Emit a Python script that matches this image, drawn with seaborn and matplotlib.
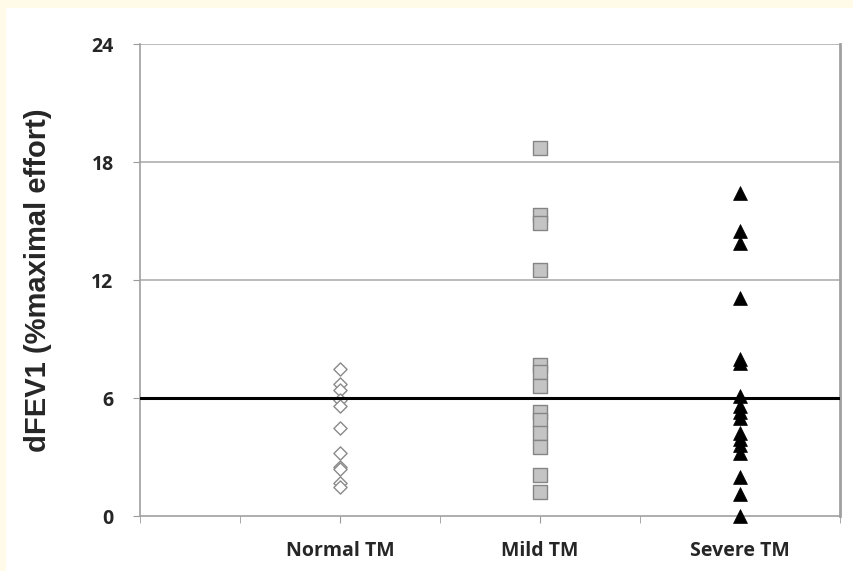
import pandas as pd
import seaborn as sns
import matplotlib.pyplot as plt
from matplotlib.patches import Rectangle

# dFEV1 values
groups = ['Normal TM', 'Mild TM', 'Severe TM']
normal_tm = [7.5, 6.7, 6.4, 5.9, 5.6, 4.5, 3.2, 2.5, 2.4, 1.7, 1.5]
mild_tm = [18.7, 15.3, 14.9, 12.5, 7.7, 7.3, 6.6, 5.3, 4.9, 4.2, 3.5, 2.1, 1.2]
severe_tm = [16.4, 14.5, 13.9, 11.1, 8.0, 7.8, 6.1, 5.6, 5.3, 5.0,
             4.2, 3.9, 3.6, 3.2, 2.0, 1.1, 0.0]
y_ticks = [0, 6, 12, 18, 24]
threshold = 6

rows = []
for i, (g, vals) in enumerate(zip(groups, [normal_tm, mild_tm, severe_tm])):
    for v in vals:
        rows.append({'group': g, 'pos': 2 * (i + 1), 'dFEV1': v})
df = pd.DataFrame(rows)

sns.set_style('white')
plt.rcParams['font.family'] = ['Open Sans', 'DejaVu Sans']

fig = plt.figure(figsize=(8.54, 5.71), dpi=100)
fig.patch.set_facecolor('#fffbe8')
# white panel behind the chart (thin cream border top/left)
fig.add_artist(Rectangle((6 / 854, 0), 1, 1 - 8 / 571, transform=fig.transFigure,
                         facecolor='white', edgecolor='none', zorder=-10))
ax = fig.add_axes([140 / 854, 1 - 516 / 571, 700 / 854, 472 / 571])
ax.set_facecolor('none')

styles = {
    'Normal TM': dict(marker='D', s=45, facecolor='white', edgecolor='#8a8a8a', linewidth=1.0),
    'Mild TM': dict(marker='s', s=95, facecolor='#c4c4c4', edgecolor='#858585', linewidth=1.0),
    'Severe TM': dict(marker='^', s=100, facecolor='black', edgecolor='black', linewidth=0.5),
}
for g in groups:
    sub = df[df['group'] == g]
    sns.scatterplot(data=sub, x='pos', y='dFEV1', ax=ax, zorder=3, legend=False,
                    clip_on=False, **styles[g])

# gridlines and threshold line
for t in y_ticks[1:]:
    ax.axhline(t, color='#b5b5b5', linewidth=1.3, zorder=1)
ax.axhline(threshold, color='black', linewidth=2.2, zorder=4)

ax.set_xlim(0, 7)
ax.set_ylim(0, 24)
ax.set_xticks([2, 4, 6])
ax.set_xticklabels(groups, fontsize=14, fontweight='bold')
ax.set_xticks(range(0, 8), minor=True)
ax.set_yticks(y_ticks)
ax.set_yticklabels([str(t) for t in y_ticks], fontsize=14, fontweight='bold')
ax.tick_params(axis='x', which='both', direction='out', length=5, color='#9a9a9a',
               bottom=True, pad=13)
ax.tick_params(axis='y', direction='out', length=5, color='#9a9a9a', left=True, pad=14)

for side in ['left', 'bottom', 'right']:
    ax.spines[side].set_color('#a0a0a0')
    ax.spines[side].set_linewidth(1.2)
ax.spines['top'].set_visible(False)
ax.spines['right'].set_linewidth(2)

ax.set_xlabel('')
ax.set_ylabel('dFEV1 (%maximal effort)', fontsize=21, fontweight='bold',
              family=['Liberation Sans', 'DejaVu Sans'], labelpad=28)

fig.savefig('out.png', dpi=100, facecolor=fig.get_facecolor())
